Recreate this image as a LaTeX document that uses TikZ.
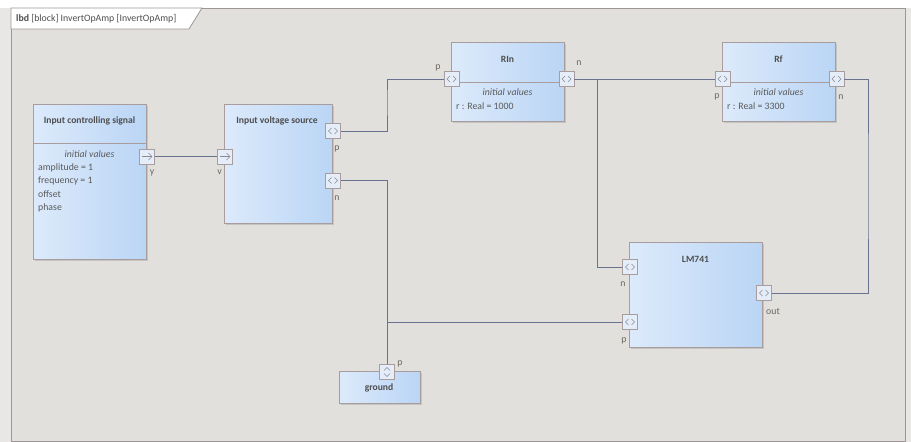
\documentclass[tikz,border=0pt]{standalone}
\usepackage{fontspec}
\setmainfont{Carlito}
\usetikzlibrary{shadows,calc}
\definecolor{framefill}{HTML}{E1E0DC}
\definecolor{framebord}{HTML}{9E9696}
\definecolor{outside}{HTML}{E8E7E5}
\definecolor{blkl}{HTML}{DCEAFB}
\definecolor{blkr}{HTML}{BAD5F5}
\definecolor{blkbord}{HTML}{A89C9C}
\definecolor{portfill}{HTML}{E4EDF8}
\definecolor{wirec}{HTML}{6A7292}
\definecolor{ttlc}{HTML}{4E4E4E}
\definecolor{txtc}{HTML}{5A5A5A}
\definecolor{lblc}{HTML}{6E6660}
\definecolor{chevc}{HTML}{8A8A95}
\tikzset{
  blk/.style={draw=blkbord, line width=0.9pt, left color=blkl, right color=blkr, anchor=north west, inner sep=0pt,
    drop shadow={shadow xshift=2pt, shadow yshift=-2pt, fill=black!30, opacity=0.6}},
  port/.style={draw=blkbord, line width=0.9pt, fill=portfill, minimum size=15pt, inner sep=0pt},
  chev/.style={draw=chevc, line width=0.6pt},
  wire/.style={draw=wirec, line width=0.8pt},
  ttl/.style={font=\fontsize{9.6}{11}\selectfont\bfseries, text=ttlc, inner sep=0pt},
  prop/.style={font=\fontsize{9.8}{11}\selectfont, text=txtc, inner sep=0pt, anchor=west},
  ival/.style={font=\fontsize{9.8}{11}\selectfont\itshape, text=txtc, inner sep=0pt},
  plbl/.style={font=\fontsize{9.8}{11}\selectfont, text=lblc, inner sep=0pt},
  divl/.style={draw=blkbord, line width=0.8pt},
}
\newcommand\lrchev[1]{%
  \draw[chev] (#1.center) ++(-1.5,-3) -- ++(-3,3) -- ++(3,3);
  \draw[chev] (#1.center) ++(1.5,-3) -- ++(3,3) -- ++(-3,3);}
\newcommand\udchev[1]{%
  \draw[chev] (#1.center) ++(-3,-1.5) -- ++(3,-3) -- ++(3,3);
  \draw[chev] (#1.center) ++(-3,1.5) -- ++(3,3) -- ++(3,-3);}
\newcommand\rarr[1]{%
  \draw[chev] (#1.center) ++(-5,0) -- ++(10,0) ++(-3.5,-3.5) -- ++(3.5,3.5) -- ++(-3.5,3.5);}
\begin{document}
\begin{tikzpicture}[x=1pt,y=-1pt]
% background
\fill[white] (0,0) rectangle (911,442);
\fill[outside] (0,8) rectangle (911,442);
\useasboundingbox (0,0) rectangle (911,442);
% frame
\draw[framebord, fill=framefill, line width=1pt] (11,8) rectangle (905,441.5);
\draw[framebord, fill=white, line width=0.8pt] (11,8) -- (202,8) -- (189,29) -- (11,29) -- cycle;
\node[font=\fontsize{9.8}{11}\selectfont, text=ttlc, anchor=west, inner sep=0pt] (ttl) at (16,19) {\textbf{lbd} [block] InvertOpAmp [InvertOpAmp]};

% Input controlling signal
\node[blk, minimum width=113pt, minimum height=155pt] (ics) at (33,104) {};
\draw[divl] (33,143) -- (146,143);
\node[ttl] (icst) at (89.5,121) {Input controlling signal};
\node[ival] (icsiv) at (89.5,154) {initial values};
\node[prop] (icsa) at (38,167.5) {amplitude = 1};
\node[prop] (icsf) at (38,181) {frequency = 1};
\node[prop] (icso) at (38,194.5) {offset};
\node[prop] (icsph) at (38,208) {phase};

% Input voltage source
\node[blk, minimum width=108pt, minimum height=119pt] (ivs) at (224,104) {};
\node[ttl] (ivst) at (277,121) {Input voltage source};

% RIn
\node[blk, minimum width=113pt, minimum height=79pt] (rin) at (451,42) {};
\draw[divl] (451,82) -- (564,82);
\node[ttl] (rint) at (507.5,59) {RIn};
\node[ival] (riniv) at (507.5,92) {initial values};
\node[prop] (rinr) at (456,106) {r : Real = 1000};

% Rf
\node[blk, minimum width=113pt, minimum height=79pt] (rf) at (722,42) {};
\draw[divl] (722,82) -- (835,82);
\node[ttl] (rft) at (778.5,59) {Rf};
\node[ival] (rfiv) at (778.5,92) {initial values};
\node[prop] (rfr) at (727,106) {r : Real = 3300};

% LM741
\node[blk, minimum width=133pt, minimum height=105pt] (lm) at (629,242) {};
\node[ttl] (lmt) at (695.5,259) {LM741};

% ground
\node[blk, minimum width=81pt, minimum height=32pt] (gnd) at (339,371) {};
\node[ttl] (gndt) at (379,388) {ground};

% ports
\node[port] (icsy) at (147,156.5) {}; \rarr{icsy}
\node[plbl] at (152,173) {y};
\node[port] (ivsv) at (225,156.5) {}; \rarr{ivsv}
\node[plbl] at (219.5,172) {v};
\node[port] (ivsp) at (333,131) {}; \lrchev{ivsp}
\node[plbl] at (337,149) {p};
\node[port] (ivsn) at (333,180.5) {}; \lrchev{ivsn}
\node[plbl] at (337,198) {n};
\node[port] (rinp) at (451.5,79) {}; \lrchev{rinp}
\node[plbl] at (438,68) {p};
\node[port] (rinn) at (566.5,79) {}; \lrchev{rinn}
\node[plbl] at (579,63) {n};
\node[port] (rfp) at (722.5,79) {}; \lrchev{rfp}
\node[plbl] at (717,97) {p};
\node[port] (rfn) at (836.5,79) {}; \lrchev{rfn}
\node[plbl] at (841,97) {n};
\node[port] (lmn) at (630,267) {}; \lrchev{lmn}
\node[plbl] at (623,284) {n};
\node[port] (lmp) at (630,322) {}; \lrchev{lmp}
\node[plbl] at (624,341) {p};
\node[port] (lmout) at (764,293) {}; \lrchev{lmout}
\node[plbl] at (773,311) {out};
\node[port] (gndp) at (387,372) {}; \udchev{gndp}
\node[plbl] at (400,364) {p};

% connectors
\coordinate (b1) at (387,100);
\coordinate (j1) at (597,79);
\coordinate (c2) at (868,186);
\draw[wire] (icsy.east) -- (ivsv.west);
\draw[wire] (ivsp.east) -| (b1) |- (rinp.west);
\draw[wire] (rinn.east) -- (rfp.west);
\draw[wire] (j1) |- (lmn.west);
\draw[wire] (rfn.east) -| (c2) |- (lmout.east);
\draw[wire] (ivsn.east) -| (gndp.north);
\draw[wire] (lmp.west -| gndp.north) -- (lmp.west);
\end{tikzpicture}
\end{document}
